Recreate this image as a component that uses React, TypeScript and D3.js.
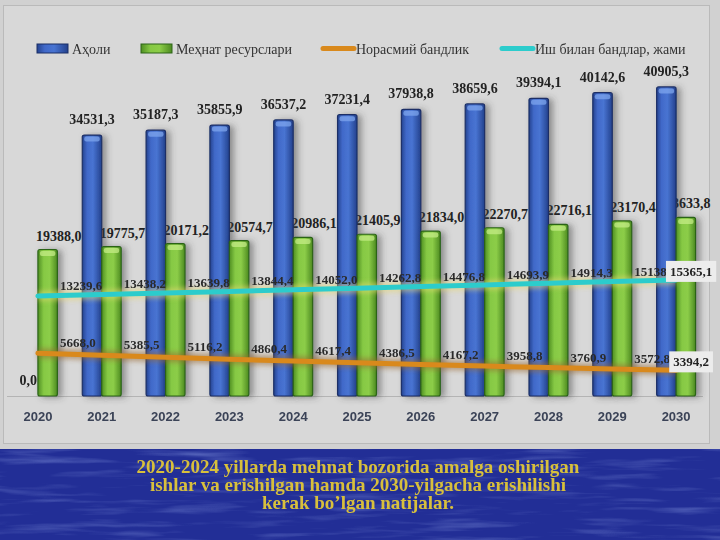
import React, { useRef, useEffect } from 'react';
import * as d3 from 'd3';

// Labour market indicators, thousand people
const years = ['2020', '2021', '2022', '2023', '2024', '2025', '2026', '2027', '2028', '2029', '2030'];
const population = [0, 34531.3, 35187.3, 35855.9, 36537.2, 37231.4, 37938.8, 38659.6, 39394.1, 40142.6, 40905.3];
const laborResources = [19388.0, 19775.7, 20171.2, 20574.7, 20986.1, 21405.9, 21834.0, 22270.7, 22716.1, 23170.4, 23633.8];
const informalEmployment = [5668.0, 5385.5, 5116.2, 4860.4, 4617.4, 4386.5, 4167.2, 3958.8, 3760.9, 3572.8, 3394.2];
const totalEmployed = [13239.6, 13438.2, 13639.8, 13844.4, 14052.0, 14262.8, 14476.8, 14693.9, 14914.3, 15138.0, 15365.1];

const seriesNames = ['Аҳоли', 'Меҳнат ресурслари', 'Норасмий бандлик', 'Иш билан бандлар, жами'];

const captionLines = [
  '2020-2024 yillarda mehnat bozorida amalga oshirilgan',
  'ishlar va erishilgan hamda 2030-yilgacha erishilishi',
  'kerak bo\u2019lgan natijalar.',
];

const W = 720;
const H = 540;

const fmt = (v: number) => v.toFixed(1).replace('.', ',');

const App = () => {
  const svgRef = useRef<SVGSVGElement>(null);

  useEffect(() => {
    document.body.style.margin = '0';
    const svg = d3.select(svgRef.current);
    svg.selectAll('*').remove();

    const defs = svg.append('defs');

    const hGrad = (id: string, stops: [number, string][]) => {
      const g = defs.append('linearGradient').attr('id', id).attr('x1', 0).attr('x2', 1).attr('y1', 0).attr('y2', 0);
      stops.forEach(([o, c]) => g.append('stop').attr('offset', o).attr('stop-color', c));
    };
    hGrad('blueBar', [[0, '#24438f'], [0.25, '#4169c9'], [0.55, '#4874d2'], [1, '#23418d']]);
    hGrad('greenBar', [[0, '#4f8f22'], [0.3, '#86c944'], [0.6, '#8ccd48'], [1, '#4c8a20']]);

    const shadow = defs.append('filter').attr('id', 'barShadow').attr('x', '-50%').attr('y', '-10%').attr('width', '200%').attr('height', '120%');
    shadow.append('feDropShadow').attr('dx', 4).attr('dy', 1).attr('stdDeviation', 3)
      .attr('flood-color', '#404040').attr('flood-opacity', 0.5);

    const glow = defs.append('filter').attr('id', 'lineGlow').attr('x', '-5%').attr('y', '-200%').attr('width', '110%').attr('height', '500%');
    glow.append('feGaussianBlur').attr('stdDeviation', 2.5);

    const water = defs.append('filter').attr('id', 'water').attr('x', 0).attr('y', 0).attr('width', 1).attr('height', 1);
    water.append('feTurbulence').attr('type', 'fractalNoise').attr('baseFrequency', '0.012 0.14').attr('numOctaves', 3).attr('seed', 7);
    water.append('feColorMatrix').attr('type', 'matrix')
      .attr('values', '0 0 0 0 0.36  0 0 0 0 0.46  0 0 0 0 0.88  1.6 0 0 0 -0.8');
    water.append('feComposite').attr('in2', 'SourceGraphic').attr('operator', 'in');

    // page and chart panel
    svg.append('rect').attr('width', W).attr('height', 449).attr('fill', '#d1d1d1');
    svg.append('rect').attr('x', 3.5).attr('y', 5.5).attr('width', 706).attr('height', 438)
      .attr('fill', '#d8d8d8').attr('stroke', '#bababa');

    const x = d3.scaleBand<string>().domain(years).range([6, 708]);
    const y = d3.scaleLinear().domain([0, 45000]).range([396, 56]);
    const barW = x.bandwidth() * 0.305;
    const cx = (yr: string) => (x(yr) as number) + x.bandwidth() / 2;

    // baseline
    svg.append('line').attr('x1', 7).attr('x2', 703).attr('y1', 396.5).attr('y2', 396.5)
      .attr('stroke', '#b4b4b4').attr('stroke-width', 1);

    const chart = svg.append('g');

    // labour resource labels sit under the next population bar
    chart.selectAll('.lab-label').data(laborResources).enter().append('text')
      .attr('x', (d, i) => cx(years[i]) + barW / 2 + (i === years.length - 1 ? 2 : 11))
      .attr('y', d => y(d) - 9)
      .attr('text-anchor', 'middle')
      .attr('font-family', 'Liberation Serif, Times New Roman, serif')
      .attr('font-weight', 'bold').attr('font-size', 14).attr('fill', '#222')
      .text(d => fmt(d));

    const drawBars = (values: number[], offset: number, fill: string, stroke: string, cap: string) => {
      const g = chart.append('g').attr('filter', 'url(#barShadow)');
      const bars = g.selectAll('g').data(values.map((v, i) => ({ v, yr: years[i] })).filter(d => d.v > 0))
        .enter().append('g');
      bars.append('rect')
        .attr('x', d => cx(d.yr) + offset)
        .attr('y', d => y(d.v))
        .attr('width', barW)
        .attr('height', d => y(0) - y(d.v))
        .attr('rx', 2)
        .attr('fill', fill)
        .attr('stroke', stroke).attr('stroke-width', 1.2);
      bars.append('rect')
        .attr('x', d => cx(d.yr) + offset + 2)
        .attr('y', d => y(d.v) + 1.5)
        .attr('width', barW - 4)
        .attr('height', 5)
        .attr('rx', 2)
        .attr('fill', cap).attr('opacity', 0.75);
    };

    drawBars(population, -barW, 'url(#blueBar)', '#1b2f66', '#7ea6ee');
    drawBars(laborResources, 0, 'url(#greenBar)', '#2c6418', '#c4ec86');

    chart.selectAll('.pop-label').data(population).enter().append('text')
      .attr('x', (d, i) => cx(years[i]) - barW / 2)
      .attr('y', d => y(d) - 11)
      .attr('text-anchor', 'middle')
      .attr('font-family', 'Liberation Serif, Times New Roman, serif')
      .attr('font-weight', 'bold').attr('font-size', 14).attr('fill', '#222')
      .text(d => fmt(d));

    // lines
    const line = d3.line<number>().x((d, i) => cx(years[i])).y(d => y(d));

    const drawLine = (values: number[], color: string, glowColor: string) => {
      chart.append('path').datum(values).attr('d', line)
        .attr('fill', 'none').attr('stroke', glowColor).attr('stroke-width', 10)
        .attr('opacity', 0.55).attr('filter', 'url(#lineGlow)');
      chart.append('path').datum(values).attr('d', line)
        .attr('fill', 'none').attr('stroke', color).attr('stroke-width', 5)
        .attr('stroke-linecap', 'round');
    };
    drawLine(totalEmployed, '#2ccccc', '#e6d873');
    drawLine(informalEmployment, '#d9891c', '#9a6a30');

    const drawLineLabels = (values: number[]) => {
      const last = values.length - 1;
      values.forEach((v, i) => {
        const px = cx(years[i]);
        const py = y(v);
        if (i === last) {
          const t = chart.append('text')
            .attr('x', px + 15).attr('y', py - 4)
            .attr('text-anchor', 'middle')
            .attr('font-family', 'Liberation Serif, Times New Roman, serif')
            .attr('font-weight', 'bold').attr('font-size', 13).attr('fill', '#222')
            .text(fmt(v));
          const bb = (t.node() as SVGTextElement).getBBox();
          chart.insert('rect', () => t.node())
            .attr('x', bb.x - 4).attr('y', bb.y - 3)
            .attr('width', bb.width + 8).attr('height', bb.height + 6)
            .attr('fill', '#ececec');
        } else {
          chart.append('text')
            .attr('x', px + 22).attr('y', py - 6)
            .attr('font-family', 'Liberation Serif, Times New Roman, serif')
            .attr('font-weight', 'bold').attr('font-size', 13).attr('fill', '#2a2a2a')
            .text(fmt(v));
        }
      });
    };
    drawLineLabels(totalEmployed);
    drawLineLabels(informalEmployment);

    // x axis labels
    svg.append('g').selectAll('text').data(years).enter().append('text')
      .attr('x', d => cx(d)).attr('y', 421)
      .attr('text-anchor', 'middle')
      .attr('font-family', 'Liberation Sans, Arial, sans-serif')
      .attr('font-weight', 'bold').attr('font-size', 13).attr('fill', '#3b4357')
      .text(d => d);

    // legend
    const legendX = [37, 141, 321, 500];
    const legend = svg.append('g');
    seriesNames.forEach((name, i) => {
      const lx = legendX[i];
      if (i < 2) {
        legend.append('rect').attr('x', lx).attr('y', 44).attr('width', 31).attr('height', 9)
          .attr('fill', i === 0 ? 'url(#blueBar)' : 'url(#greenBar)')
          .attr('stroke', i === 0 ? '#1b2f66' : '#2c6418');
      } else {
        legend.append('line').attr('x1', lx + 2).attr('x2', lx + 33).attr('y1', 48.5).attr('y2', 48.5)
          .attr('stroke', i === 2 ? '#d9891c' : '#2ccccc').attr('stroke-width', 5).attr('stroke-linecap', 'round');
      }
      legend.append('text').attr('x', lx + 35).attr('y', 54)
        .attr('font-family', 'Liberation Serif, Times New Roman, serif')
        .attr('font-size', 14).attr('fill', '#333')
        .text(name);
    });

    // caption band
    svg.append('rect').attr('x', 0).attr('y', 449).attr('width', W).attr('height', H - 449).attr('fill', '#222e96');
    svg.append('rect').attr('x', 0).attr('y', 449).attr('width', W).attr('height', H - 449)
      .attr('fill', '#ffffff').attr('filter', 'url(#water)').attr('opacity', 0.5);

    svg.append('g').selectAll('text').data(captionLines).enter().append('text')
      .attr('x', 358).attr('y', (d, i) => 473 + i * 18)
      .attr('text-anchor', 'middle')
      .attr('font-family', 'Liberation Serif, Times New Roman, serif')
      .attr('font-weight', 'bold').attr('font-size', 19)
      .attr('fill', '#d8c03c')
      .text(d => d);
  }, []);

  return <svg ref={svgRef} width={W} height={H} style={{ display: 'block' }} />;
};

export default App;
